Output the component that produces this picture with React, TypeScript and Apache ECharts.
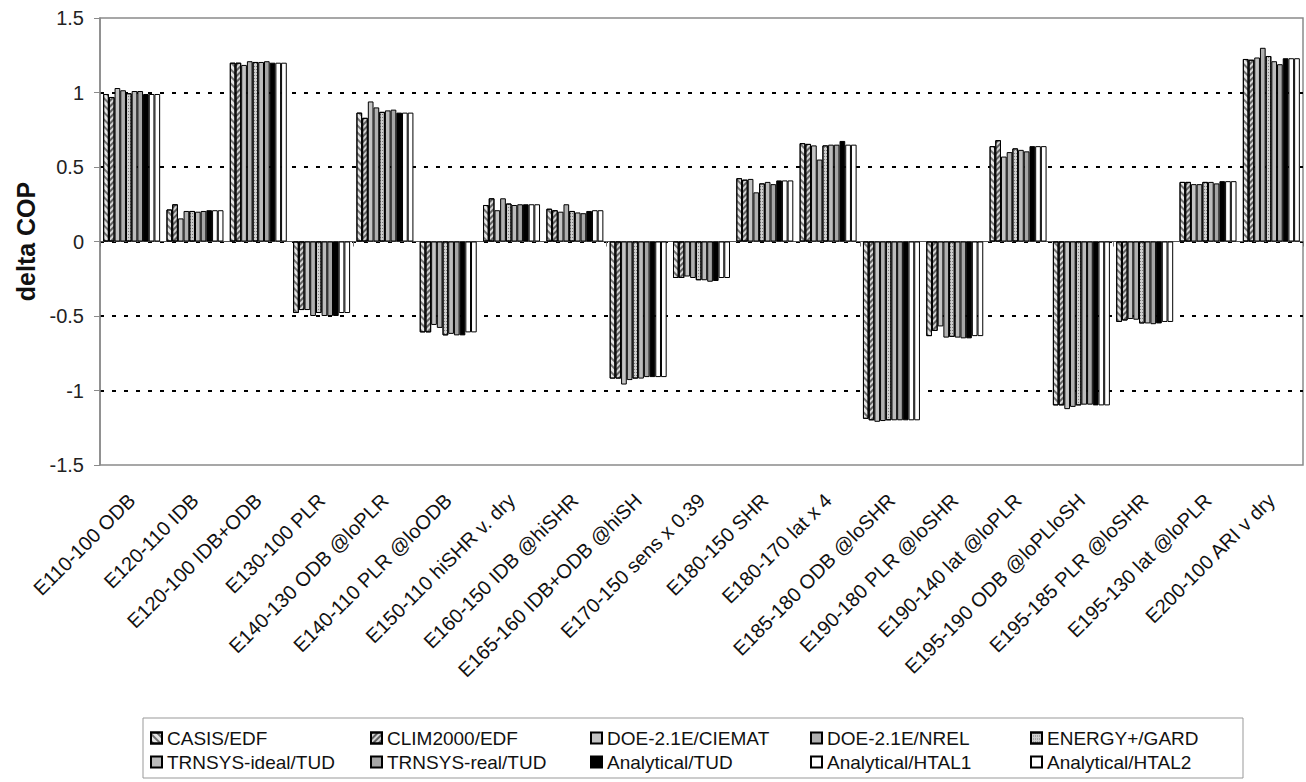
import React, { useEffect, useRef } from "react";
import * as echarts from "echarts";

const categories = [
  "E110-100 ODB", "E120-110 IDB", "E120-100 IDB+ODB", "E130-100 PLR",
  "E140-130 ODB @loPLR", "E140-110 PLR @loODB", "E150-110 hiSHR v. dry",
  "E160-150 IDB @hiSHR", "E165-160 IDB+ODB @hiSH", "E170-150 sens x 0.39",
  "E180-150 SHR", "E180-170 lat x 4", "E185-180 ODB @loSHR", "E190-180 PLR @loSHR",
  "E190-140 lat @loPLR", "E195-190 ODB @loPLloSH", "E195-185 PLR @loSHR",
  "E195-130 lat @loPLR", "E200-100 ARI v dry",
];

const seriesNames = [
  "CASIS/EDF", "CLIM2000/EDF", "DOE-2.1E/CIEMAT", "DOE-2.1E/NREL", "ENERGY+/GARD",
  "TRNSYS-ideal/TUD", "TRNSYS-real/TUD", "Analytical/TUD", "Analytical/HTAL1", "Analytical/HTAL2",
];

const casisEdf = [0.99, 0.215, 1.2, -0.48, 0.865, -0.61, 0.245, 0.22, -0.92, -0.245, 0.425, 0.66, -1.19, -0.635, 0.64, -1.1, -0.54, 0.4, 1.225];
const clim2000Edf = [0.97, 0.25, 1.2, -0.46, 0.83, -0.61, 0.29, 0.21, -0.92, -0.245, 0.415, 0.655, -1.2, -0.6, 0.68, -1.1, -0.53, 0.4, 1.22];
const doeCiemat = [1.03, 0.155, 1.185, -0.46, 0.94, -0.56, 0.21, 0.2, -0.96, -0.235, 0.42, 0.645, -1.21, -0.57, 0.57, -1.125, -0.52, 0.385, 1.235];
const doeNrel = [1.015, 0.205, 1.21, -0.5, 0.9, -0.58, 0.29, 0.25, -0.93, -0.245, 0.33, 0.55, -1.205, -0.645, 0.6, -1.11, -0.525, 0.385, 1.3];
const energyPlusGard = [0.995, 0.205, 1.205, -0.48, 0.87, -0.63, 0.255, 0.205, -0.92, -0.26, 0.39, 0.645, -1.2, -0.64, 0.625, -1.1, -0.55, 0.4, 1.245];
const trnsysIdeal = [1.01, 0.2, 1.205, -0.5, 0.88, -0.62, 0.245, 0.195, -0.92, -0.26, 0.4, 0.65, -1.2, -0.645, 0.615, -1.095, -0.55, 0.4, 1.21];
const trnsysReal = [1.01, 0.205, 1.21, -0.5, 0.885, -0.63, 0.25, 0.19, -0.91, -0.27, 0.385, 0.65, -1.2, -0.65, 0.605, -1.095, -0.555, 0.39, 1.19];
const analyticalTud = [0.99, 0.21, 1.2, -0.5, 0.865, -0.63, 0.25, 0.205, -0.91, -0.265, 0.41, 0.675, -1.2, -0.65, 0.64, -1.1, -0.55, 0.405, 1.23];
const analyticalHtal1 = [0.99, 0.21, 1.2, -0.48, 0.865, -0.61, 0.25, 0.21, -0.91, -0.245, 0.41, 0.65, -1.2, -0.635, 0.64, -1.1, -0.54, 0.405, 1.23];
const analyticalHtal2 = [0.99, 0.21, 1.2, -0.48, 0.865, -0.61, 0.25, 0.21, -0.91, -0.245, 0.41, 0.65, -1.2, -0.635, 0.64, -1.1, -0.54, 0.405, 1.23];

const seriesValues = [
  casisEdf, clim2000Edf, doeCiemat, doeNrel, energyPlusGard,
  trnsysIdeal, trnsysReal, analyticalTud, analyticalHtal1, analyticalHtal2,
];

const yTicks = { min: -1.5, max: 1.5, interval: 0.5 };

const fills: any[] = [
  { color: "#e6e6e6", decal: { symbol: "rect", symbolSize: 1, dashArrayX: [1, 0], dashArrayY: [1.5, 2.5], rotation: Math.PI / 4, color: "rgba(0,0,0,0.5)" } },
  { color: "#d4d4d4", decal: { symbol: "rect", symbolSize: 1, dashArrayX: [1, 0], dashArrayY: [1.5, 2], rotation: -Math.PI / 4, color: "rgba(0,0,0,0.55)" } },
  { color: "#c4c4c4" },
  { color: "#b0b0b0" },
  { color: "#cfcfcf", decal: { symbol: "rect", symbolSize: 1, dashArrayX: [1, 1], dashArrayY: [1, 1.5], rotation: 0, color: "rgba(0,0,0,0.4)" } },
  { color: "#bcbcbc" },
  { color: "#a6a6a6" },
  { color: "#000000" },
  { color: "#ffffff" },
  { color: "#ffffff" },
];

export default function App() {
  const ref = useRef<HTMLDivElement>(null);
  useEffect(() => {
    if (!ref.current) return;
    const chart = echarts.init(ref.current, null, { renderer: "svg" });
    const font = "'Liberation Sans', Arial, sans-serif";
    const legendData = seriesNames.map((n, i) => ({
      name: n,
      textStyle: { width: i % 5 === 4 ? 192 : 203, fontSize: 19, fontFamily: font, color: "#111", lineHeight: 24 },
    }));
    chart.setOption({
      animation: false,
      backgroundColor: "#fff",
      grid: { left: 100, right: 3, top: 18, bottom: 317, show: true, borderColor: "#8a8a8a", borderWidth: 1.5, backgroundColor: "transparent" },
      legend: {
        data: legendData,
        left: 143,
        top: 718,
        width: 1150,
        padding: [8, 4, 4, 7],
        itemGap: 0,
        itemWidth: 11,
        itemHeight: 11,
        icon: "rect",
        borderColor: "#999",
        borderWidth: 1,
        selectedMode: false,
        textStyle: { fontSize: 19, fontFamily: font, color: "#111" },
      },
      xAxis: [
        {
          type: "category",
          data: categories,
          position: "bottom",
          axisLine: { show: false, onZero: false },
          axisTick: { show: false },
          axisLabel: { interval: 0, rotate: 45, fontSize: 20, fontFamily: font, color: "#111", margin: 32 },
          splitLine: { show: false },
        },
        {
          type: "category",
          data: categories,
          position: "bottom",
          axisLine: { show: true, onZero: true, lineStyle: { color: "#555", width: 1 } },
          axisTick: { show: true, length: 5, lineStyle: { color: "#777" } },
          axisLabel: { show: false },
          splitLine: { show: false },
        },
      ],
      yAxis: {
        type: "value",
        min: yTicks.min,
        max: yTicks.max,
        interval: yTicks.interval,
        name: "delta COP",
        nameLocation: "middle",
        nameRotate: 90,
        nameGap: 58,
        nameTextStyle: { fontSize: 25, fontWeight: "bold", fontFamily: font, color: "#111" },
        axisLine: { show: true, lineStyle: { color: "#8a8a8a", width: 1.5 } },
        axisTick: { show: true, length: 6, lineStyle: { color: "#8a8a8a" } },
        axisLabel: { fontSize: 20, fontFamily: font, color: "#222", margin: 16 },
        splitLine: { show: true, showMinLine: false, showMaxLine: false, lineStyle: { color: "#000", type: [4, 8], width: 2 } },
      },
      series: seriesNames.map((name, i) => ({
        name,
        type: "bar",
        xAxisIndex: 0,
        data: seriesValues[i],
        barGap: "0%",
        barCategoryGap: "10%",
        itemStyle: { color: fills[i].color, decal: fills[i].decal, borderColor: "#000", borderWidth: 1 },
      })),
    });
    return () => chart.dispose();
  }, []);
  return <div ref={ref} style={{ position: "absolute", left: 0, top: 0, width: 1306, height: 782 }} />;
}
